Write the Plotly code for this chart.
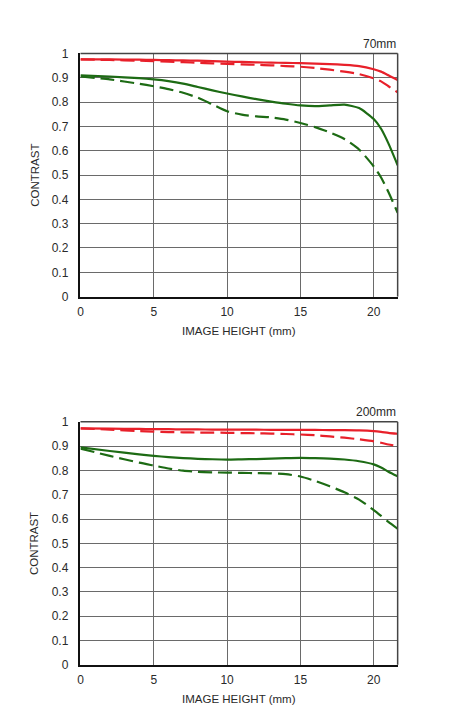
import plotly.graph_objects as go

# image height (mm)
height_mm = [0, 2, 4, 5, 6, 7, 8, 9, 10, 11, 12, 13, 14, 15, 16, 17, 18, 19, 20, 20.5, 21, 21.63]

# 70mm
red_solid_70 = [0.975, 0.975, 0.974, 0.973, 0.972, 0.971, 0.970, 0.968, 0.966, 0.965, 0.963,
                0.962, 0.961, 0.960, 0.958, 0.956, 0.953, 0.948, 0.935, 0.925, 0.910, 0.890]
red_dash_70 = [0.975, 0.973, 0.970, 0.968, 0.966, 0.964, 0.961, 0.959, 0.957, 0.955, 0.953,
               0.951, 0.948, 0.945, 0.940, 0.933, 0.925, 0.915, 0.897, 0.885, 0.865, 0.840]
green_solid_70 = [0.910, 0.905, 0.898, 0.893, 0.886, 0.876, 0.862, 0.848, 0.835, 0.823, 0.812,
                  0.802, 0.793, 0.786, 0.783, 0.786, 0.789, 0.775, 0.730, 0.690, 0.630, 0.540]
green_dash_70 = [0.905, 0.893, 0.875, 0.865, 0.853, 0.838, 0.818, 0.790, 0.762, 0.748, 0.741,
                 0.737, 0.728, 0.714, 0.697, 0.675, 0.648, 0.605, 0.535, 0.490, 0.430, 0.345]

# 200mm
red_solid_200 = [0.973, 0.972, 0.971, 0.970, 0.970, 0.969, 0.969, 0.968, 0.968, 0.968, 0.968,
                 0.967, 0.967, 0.967, 0.967, 0.966, 0.966, 0.965, 0.962, 0.959, 0.955, 0.951]
red_dash_200 = [0.973, 0.968, 0.962, 0.960, 0.958, 0.957, 0.956, 0.956, 0.955, 0.954, 0.953,
                0.952, 0.950, 0.948, 0.945, 0.940, 0.935, 0.928, 0.920, 0.914, 0.907, 0.900]
green_solid_200 = [0.895, 0.880, 0.866, 0.860, 0.855, 0.851, 0.848, 0.846, 0.845, 0.846, 0.847,
                   0.849, 0.851, 0.852, 0.851, 0.849, 0.845, 0.838, 0.825, 0.812, 0.795, 0.776]
green_dash_200 = [0.890, 0.860, 0.832, 0.820, 0.808, 0.799, 0.794, 0.792, 0.791, 0.790, 0.789,
                  0.788, 0.785, 0.775, 0.757, 0.735, 0.710, 0.680, 0.637, 0.613, 0.588, 0.560]

y_ticks = [0, 0.1, 0.2, 0.3, 0.4, 0.5, 0.6, 0.7, 0.8, 0.9, 1]
y_labels = ["0", "0.1", "0.2", "0.3", "0.4", "0.5", "0.6", "0.7", "0.8", "0.9", "1"]
x_ticks = [0, 5, 10, 15, 20]

RED = "#e8202a"
GREEN = "#1d6b14"
W, H = 449, 728
FONT = "Liberation Sans"
TXT = "#2a2a2a"

fig = go.Figure()

panels = [
    ("70mm", "x", "y", [red_solid_70, red_dash_70, green_solid_70, green_dash_70]),
    ("200mm", "x2", "y2", [red_solid_200, red_dash_200, green_solid_200, green_dash_200]),
]
styles = [(RED, "solid"), (RED, "14px,6px"), (GREEN, "solid"), (GREEN, "14px,6px")]

for name, xa, ya, series in panels:
    for vals, (col, dash) in zip(series, styles):
        fig.add_trace(go.Scatter(x=height_mm, y=vals, mode="lines", xaxis=xa, yaxis=ya,
                                 line=dict(color=col, width=2.2, dash=dash, shape="spline", smoothing=0.6),
                                 showlegend=False, hoverinfo="skip"))

# pixel boxes of the two plot areas: (left, right, top, bottom)
boxes = [(78, 397.3, 47.3, 295.3), (78, 397.3, 423, 670.7)]

axis_common = dict(showgrid=True, gridcolor="#6a6a6a", gridwidth=1, zeroline=False,
                   ticks="", tickfont=dict(family=FONT, size=12, color=TXT),
                   showline=True, linecolor="#111", linewidth=1.5)

layout = dict(width=W, height=H, margin=dict(l=0, r=0, t=0, b=0),
              plot_bgcolor="white", paper_bgcolor="white", font=dict(family=FONT))
shapes = []
annotations = []
for i, (l, r, t, b) in enumerate(boxes):
    sfx = "" if i == 0 else "2"
    layout["xaxis" + sfx] = dict(axis_common, domain=[l / W, r / W], range=[0, 21.63],
                                 tickvals=x_ticks, anchor="y" + sfx, ticklabelstandoff=3)
    layout["yaxis" + sfx] = dict(axis_common, domain=[1 - b / H, 1 - t / H], range=[0, 1],
                                 tickvals=y_ticks, ticktext=y_labels, anchor="x" + sfx,
                                 ticklabelstandoff=8)
    # right and top frame
    shapes.append(dict(type="line", xref="x" + sfx + " domain", yref="y" + sfx + " domain",
                       x0=0, x1=1, y0=1, y1=1, line=dict(color="#444", width=1.5)))
    shapes.append(dict(type="line", xref="x" + sfx + " domain", yref="y" + sfx + " domain",
                       x0=1, x1=1, y0=0, y1=1, line=dict(color="#444", width=1.5)))
    annotations.append(dict(text=panels[i][0], xref="paper", yref="paper", x=r / W, y=1 - (t - 10) / H,
                            xanchor="right", yanchor="middle", showarrow=False,
                            font=dict(family=FONT, size=12, color=TXT)))
    annotations.append(dict(text="CONTRAST", xref="paper", yref="paper", x=32 / W, y=1 - (t + b) / 2 / H,
                            textangle=-90, xanchor="center", yanchor="middle", showarrow=False,
                            font=dict(family=FONT, size=11.5, color=TXT)))
    annotations.append(dict(text="IMAGE HEIGHT (mm)", xref="paper", yref="paper", x=(l + r) / 2 / W,
                            y=1 - (b + 35) / H, xanchor="center", yanchor="middle", showarrow=False,
                            font=dict(family=FONT, size=11.5, color=TXT)))

layout["shapes"] = shapes
layout["annotations"] = annotations
fig.update_layout(**layout)

# drop the default page margin so the figure sits at the window corner
fig.write_html("out.html", config={"displayModeBar": False},
               post_script="document.body.style.margin='0';")
